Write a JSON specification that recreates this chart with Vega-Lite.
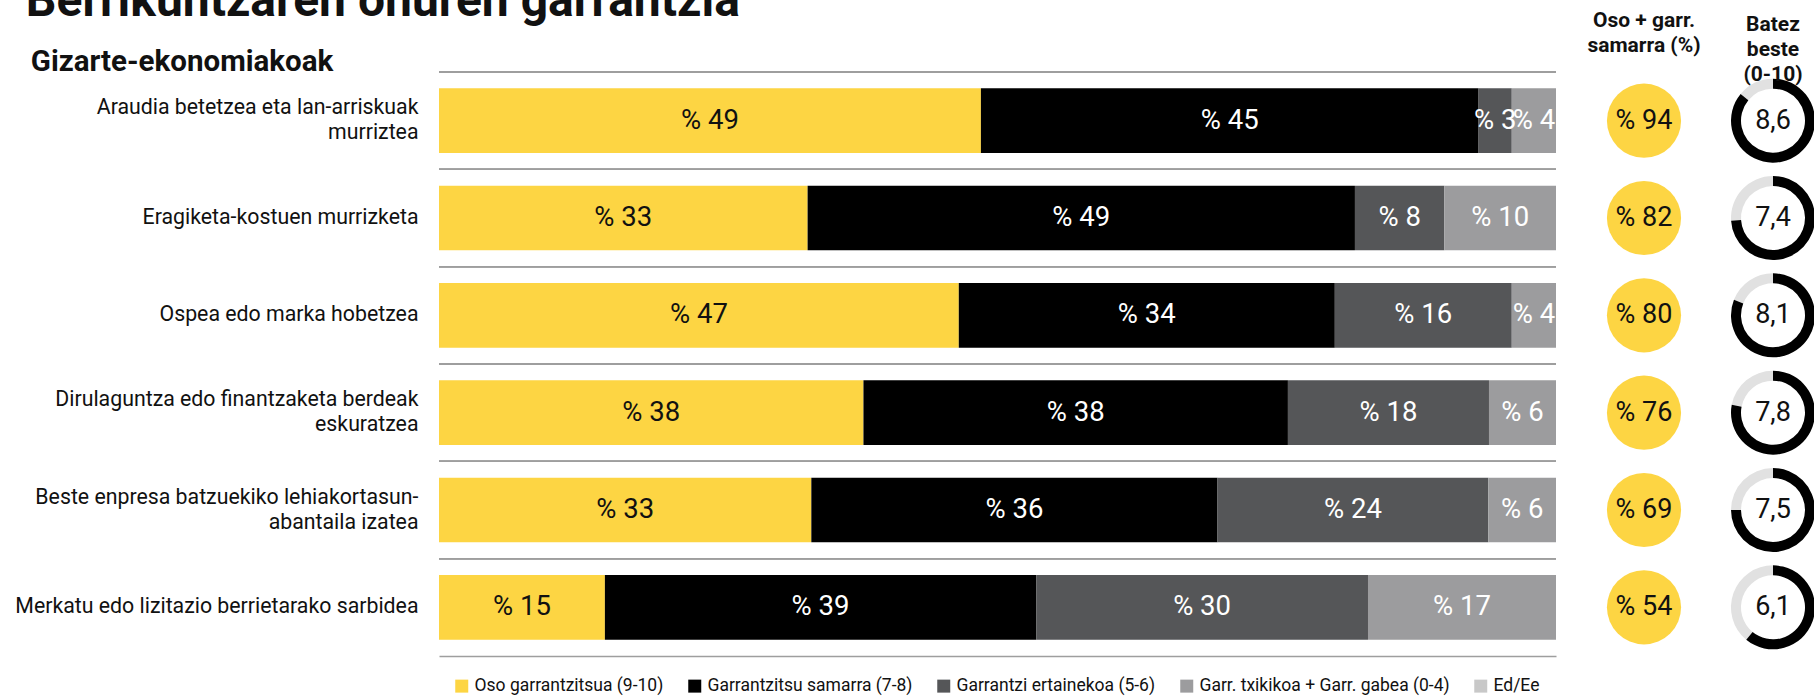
{
  "$schema": "https://vega.github.io/schema/vega-lite/v6.json",
  "padding": {"left": 14, "top": -23, "right": 0, "bottom": 0},
  "background": "white",
  "config": {
    "font": "Roboto",
    "locale": {"number": {"decimal": ",", "thousands": ".", "grouping": [3], "currency": ["% ", ""]}},
    "view": {"stroke": null}
  },
  "title": {"text": "Berrikuntzaren onuren garrantzia", "anchor": "start", "fontSize": 48, "fontWeight": "bold", "color": "#111111", "baseline": "alphabetic", "offset": -53.5, "dx": 11},
  "datasets": {
    "bars": [
      {"item": "Araudia betetzea eta lan-arriskuak\nmurriztea", "cat": "Oso garrantzitsua (9-10)", "k": 1, "value": 49},
      {"item": "Araudia betetzea eta lan-arriskuak\nmurriztea", "cat": "Garrantzitsu samarra (7-8)", "k": 2, "value": 45},
      {"item": "Araudia betetzea eta lan-arriskuak\nmurriztea", "cat": "Garrantzi ertainekoa (5-6)", "k": 3, "value": 3},
      {"item": "Araudia betetzea eta lan-arriskuak\nmurriztea", "cat": "Garr. txikikoa + Garr. gabea (0-4)", "k": 4, "value": 4},
      {"item": "Eragiketa-kostuen murrizketa", "cat": "Oso garrantzitsua (9-10)", "k": 1, "value": 33},
      {"item": "Eragiketa-kostuen murrizketa", "cat": "Garrantzitsu samarra (7-8)", "k": 2, "value": 49},
      {"item": "Eragiketa-kostuen murrizketa", "cat": "Garrantzi ertainekoa (5-6)", "k": 3, "value": 8},
      {"item": "Eragiketa-kostuen murrizketa", "cat": "Garr. txikikoa + Garr. gabea (0-4)", "k": 4, "value": 10},
      {"item": "Ospea edo marka hobetzea", "cat": "Oso garrantzitsua (9-10)", "k": 1, "value": 47},
      {"item": "Ospea edo marka hobetzea", "cat": "Garrantzitsu samarra (7-8)", "k": 2, "value": 34},
      {"item": "Ospea edo marka hobetzea", "cat": "Garrantzi ertainekoa (5-6)", "k": 3, "value": 16},
      {"item": "Ospea edo marka hobetzea", "cat": "Garr. txikikoa + Garr. gabea (0-4)", "k": 4, "value": 4},
      {"item": "Dirulaguntza edo finantzaketa berdeak\neskuratzea", "cat": "Oso garrantzitsua (9-10)", "k": 1, "value": 38},
      {"item": "Dirulaguntza edo finantzaketa berdeak\neskuratzea", "cat": "Garrantzitsu samarra (7-8)", "k": 2, "value": 38},
      {"item": "Dirulaguntza edo finantzaketa berdeak\neskuratzea", "cat": "Garrantzi ertainekoa (5-6)", "k": 3, "value": 18},
      {"item": "Dirulaguntza edo finantzaketa berdeak\neskuratzea", "cat": "Garr. txikikoa + Garr. gabea (0-4)", "k": 4, "value": 6},
      {"item": "Beste enpresa batzuekiko lehiakortasun-\nabantaila izatea", "cat": "Oso garrantzitsua (9-10)", "k": 1, "value": 33},
      {"item": "Beste enpresa batzuekiko lehiakortasun-\nabantaila izatea", "cat": "Garrantzitsu samarra (7-8)", "k": 2, "value": 36},
      {"item": "Beste enpresa batzuekiko lehiakortasun-\nabantaila izatea", "cat": "Garrantzi ertainekoa (5-6)", "k": 3, "value": 24},
      {"item": "Beste enpresa batzuekiko lehiakortasun-\nabantaila izatea", "cat": "Garr. txikikoa + Garr. gabea (0-4)", "k": 4, "value": 6},
      {"item": "Merkatu edo lizitazio berrietarako sarbidea", "cat": "Oso garrantzitsua (9-10)", "k": 1, "value": 15},
      {"item": "Merkatu edo lizitazio berrietarako sarbidea", "cat": "Garrantzitsu samarra (7-8)", "k": 2, "value": 39},
      {"item": "Merkatu edo lizitazio berrietarako sarbidea", "cat": "Garrantzi ertainekoa (5-6)", "k": 3, "value": 30},
      {"item": "Merkatu edo lizitazio berrietarako sarbidea", "cat": "Garr. txikikoa + Garr. gabea (0-4)", "k": 4, "value": 17}
    ],
    "summary": [
      {"item": "Araudia betetzea eta lan-arriskuak\nmurriztea", "top2": 94, "score": 8.6},
      {"item": "Eragiketa-kostuen murrizketa", "top2": 82, "score": 7.4},
      {"item": "Ospea edo marka hobetzea", "top2": 80, "score": 8.1},
      {"item": "Dirulaguntza edo finantzaketa berdeak\neskuratzea", "top2": 76, "score": 7.8},
      {"item": "Beste enpresa batzuekiko lehiakortasun-\nabantaila izatea", "top2": 69, "score": 7.5},
      {"item": "Merkatu edo lizitazio berrietarako sarbidea", "top2": 54, "score": 6.1}
    ]
  },
  "spacing": 0,
  "resolve": {"scale": {"color": "independent"}, "legend": {"color": "independent"}},
  "hconcat": [
    {
      "width": 1117,
      "height": 584,
      "title": {"text": "Gizarte-ekonomiakoak", "anchor": "start", "frame": "bounds", "fontSize": 29.5, "fontWeight": "bold", "baseline": "alphabetic", "offset": -29, "dx": 16, "color": "#111111"},
      "data": {"name": "bars"},
      "encoding": {
        "y": {
          "field": "item", "type": "nominal",
          "sort": ["Araudia betetzea eta lan-arriskuak\nmurriztea", "Eragiketa-kostuen murrizketa", "Ospea edo marka hobetzea", "Dirulaguntza edo finantzaketa berdeak\neskuratzea", "Beste enpresa batzuekiko lehiakortasun-\nabantaila izatea", "Merkatu edo lizitazio berrietarako sarbidea"],
          "scale": {"type": "band", "paddingInner": 0, "paddingOuter": 0},
          "axis": {
            "title": null, "labelExpr": "split(datum.label, '\\n')", "labelFontSize": 21.3, "labelColor": "#111111", "labelPadding": 21, "ticks": false, "domain": false, "labelLineHeight": 25, "labelLimit": 700, "labelAlign": "right", "labelBaseline": "middle",
            "labelOffset": {"condition": {"test": "indexof(datum.value, '\\n') >= 0", "value": -12.5}, "value": 0}
          }
        }
      },
      "layer": [
        {
          "mark": {"type": "rule", "color": "#9e9e9e", "strokeWidth": 1.5},
          "encoding": {"y": {"field": "item", "type": "nominal", "sort": ["Araudia betetzea eta lan-arriskuak\nmurriztea", "Eragiketa-kostuen murrizketa", "Ospea edo marka hobetzea", "Dirulaguntza edo finantzaketa berdeak\neskuratzea", "Beste enpresa batzuekiko lehiakortasun-\nabantaila izatea", "Merkatu edo lizitazio berrietarako sarbidea"], "bandPosition": 0}}
        },
        {
          "mark": {"type": "bar", "height": {"band": 0.665}},
          "encoding": {
            "x": {"field": "value", "type": "quantitative", "stack": "normalize", "scale": {"domain": [0, 1], "nice": false}, "axis": {"labels": false, "ticks": false, "grid": false, "title": null, "domainColor": "#9e9e9e", "domainWidth": 1.5}},
            "color": {
              "field": "cat", "type": "nominal",
              "scale": {"domain": ["Oso garrantzitsua (9-10)", "Garrantzitsu samarra (7-8)", "Garrantzi ertainekoa (5-6)", "Garr. txikikoa + Garr. gabea (0-4)", "Ed/Ee"], "range": ["#FDD543", "#000000", "#555658", "#9C9C9E", "#C8C8C8"]},
              "legend": {"orient": "bottom", "direction": "horizontal", "title": null, "symbolType": "square", "symbolSize": 169, "symbolStrokeWidth": 0, "labelFontSize": 17.5, "labelLimit": 500, "labelColor": "#111111", "columnPadding": 22, "labelOffset": 4, "offset": 7, "padding": 14}
            },
            "order": {"field": "k", "type": "quantitative"}
          }
        },
        {
          "mark": {"type": "text", "fontSize": 27.5, "align": "center", "baseline": "middle"},
          "encoding": {
            "x": {"field": "value", "type": "quantitative", "stack": "normalize", "bandPosition": 0.5},
            "detail": {"field": "cat"},
            "order": {"field": "k", "type": "quantitative"},
            "text": {"field": "value", "type": "quantitative", "format": "$.0f"},
            "color": {"condition": {"test": "datum.cat === 'Oso garrantzitsua (9-10)'", "value": "#111111"}, "value": "#ffffff"}
          }
        }
      ]
    },
    {
      "width": 174,
      "height": 584,
      "title": {"text": ["Oso + garr.", "samarra (%)"], "fontSize": 21, "fontWeight": "bold", "lineHeight": 25, "baseline": "bottom", "offset": -5, "anchor": "middle", "color": "#111111"},
      "data": {"name": "summary"},
      "encoding": {
        "y": {"field": "item", "type": "nominal", "sort": ["Araudia betetzea eta lan-arriskuak\nmurriztea", "Eragiketa-kostuen murrizketa", "Ospea edo marka hobetzea", "Dirulaguntza edo finantzaketa berdeak\neskuratzea", "Beste enpresa batzuekiko lehiakortasun-\nabantaila izatea", "Merkatu edo lizitazio berrietarako sarbidea"], "axis": null}
      },
      "layer": [
        {"mark": {"type": "point", "filled": true, "shape": "circle", "size": 5500, "color": "#FDD543", "opacity": 1}},
        {"mark": {"type": "text", "fontSize": 27, "color": "#111111", "align": "center", "baseline": "middle"}, "encoding": {"text": {"field": "top2", "type": "quantitative", "format": "$.0f"}}}
      ]
    },
    {
      "width": 82,
      "height": 584,
      "title": {"text": ["Batez", "beste", "(0-10)"], "fontSize": 21, "fontWeight": "bold", "lineHeight": 25, "baseline": "bottom", "offset": -33.5, "anchor": "middle", "color": "#111111"},
      "data": {"name": "summary"},
      "encoding": {
        "y": {"field": "item", "type": "nominal", "sort": ["Araudia betetzea eta lan-arriskuak\nmurriztea", "Eragiketa-kostuen murrizketa", "Ospea edo marka hobetzea", "Dirulaguntza edo finantzaketa berdeak\neskuratzea", "Beste enpresa batzuekiko lehiakortasun-\nabantaila izatea", "Merkatu edo lizitazio berrietarako sarbidea"], "axis": null}
      },
      "layer": [
        {
          "mark": {"type": "arc", "outerRadius": 42, "innerRadius": 32, "color": "#e1e1e1"},
          "encoding": {"theta": {"field": "score", "type": "quantitative", "stack": null, "scale": {"domain": [0, 10], "range": [0, 6.283185]}}, "theta2": {"datum": 10}}
        },
        {
          "mark": {"type": "arc", "outerRadius": 42, "innerRadius": 32, "color": "#000000"},
          "encoding": {"theta": {"field": "score", "type": "quantitative", "stack": null, "scale": {"domain": [0, 10], "range": [0, 6.283185]}}, "theta2": {"datum": 0}}
        },
        {"mark": {"type": "text", "fontSize": 27, "color": "#111111", "align": "center", "baseline": "middle"}, "encoding": {"text": {"field": "score", "type": "quantitative", "format": ".1f"}}}
      ]
    }
  ]
}
